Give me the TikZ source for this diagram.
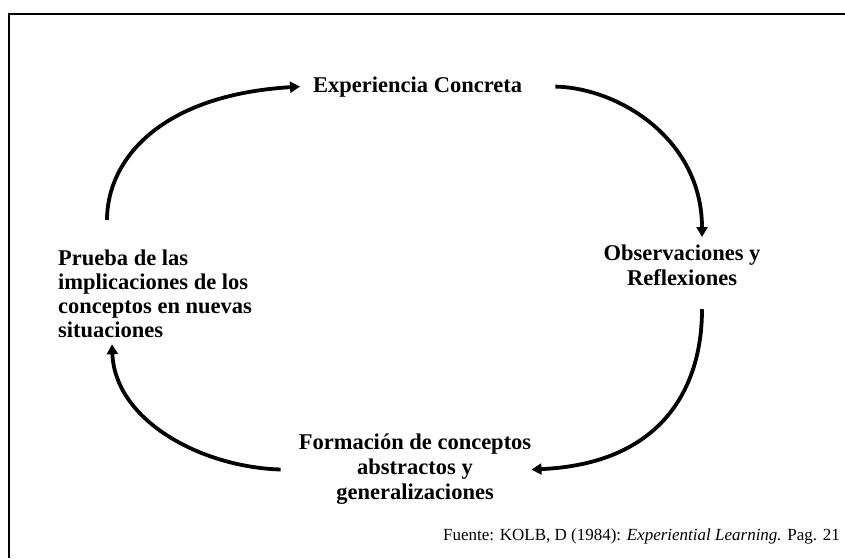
\documentclass[tikz,border=0pt]{standalone}
\usepackage{fontspec}
\setmainfont{Liberation Serif}
\usetikzlibrary{arrows.meta}
\begin{document}
\begin{tikzpicture}[x=1pt,y=-1pt,
  lbl/.style={font=\fontsize{22.5}{25}\selectfont\bfseries, inner sep=0pt, align=center},
  arr/.style={line width=3.8pt, -{Triangle[length=10pt,width=11pt]}},
  frame/.style={line width=2pt}]
\useasboundingbox (0,0) rectangle (845,558);
\draw[frame] (9,558) -- (9,14) -- (845,14);
\node[lbl, anchor=base west] (exp) at (313,92) {Experiencia Concreta};
\node[lbl, anchor=north] (obs) at (682,245) {Observaciones y\\Reflexiones};
\node[lbl, anchor=north] (form) at (415,434) {Formación de conceptos\\abstractos y\\generalizaciones};
\node[lbl, anchor=north west, align=left, font=\fontsize{22.5}{24}\selectfont\bfseries] (prue) at (58,250) {Prueba de las\\implicaciones de los\\conceptos en nuevas\\situaciones};
\node[font=\fontsize{17}{19}\selectfont, inner sep=0pt, anchor=base east] (src) at (840,540) {Fuente: KOLB, D (1984): \textit{Experiential Learning.} Pag. 21};
\draw[arr] ([xshift=49pt,yshift=30pt]prue.north west) .. controls (107,160) and (160,95) .. ([xshift=-13pt]exp.west);
\draw[arr] ([xshift=33pt]exp.east) .. controls (620,88) and (702,140) .. ([xshift=20pt,yshift=8pt]obs.north);
\draw[arr] ([xshift=20pt,yshift=-23pt]obs.south) .. controls (702,390) and (660,464) .. (form.east);
\draw[arr] ([xshift=-18pt]form.west) .. controls (200,467) and (115,420) .. ([xshift=54pt,yshift=-6pt]prue.south west);
\end{tikzpicture}
\end{document}
